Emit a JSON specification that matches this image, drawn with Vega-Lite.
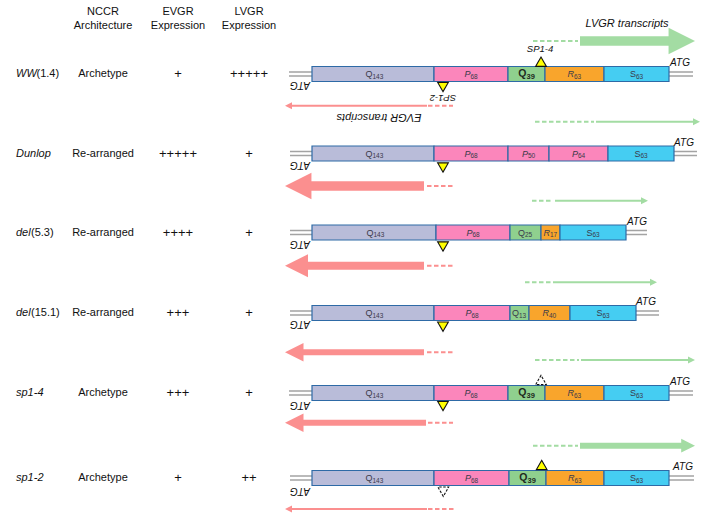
{
  "$schema": "https://vega.github.io/schema/vega-lite/v6.json",
  "width": 713,
  "height": 518,
  "autosize": {"type": "fit", "contains": "padding"},
  "padding": 0,
  "background": "white",
  "config": {"view": {"stroke": null}, "font": "Liberation Sans", "text": {"font": "Liberation Sans"}},
  "datasets": {
    "lines": [
      {"c": 74, "x1": 289, "x2": 693},
      {"c": 153.5, "x1": 290, "x2": 697},
      {"c": 232.5, "x1": 290, "x2": 647},
      {"c": 313, "x1": 290, "x2": 659},
      {"c": 393, "x1": 289, "x2": 693},
      {"c": 478, "x1": 290, "x2": 694}
    ],
    "boxes": [
      {"c": 74, "x1": 312, "x2": 434, "k": "Qa", "L": "Q", "n": "143", "m": 373},
      {"c": 74, "x1": 434, "x2": 508, "k": "P", "L": "P", "n": "68", "m": 471},
      {"c": 74, "x1": 508, "x2": 545, "k": "Qb", "L": "Q", "n": "39", "m": 526.5},
      {"c": 74, "x1": 545, "x2": 604, "k": "R", "L": "R", "n": "63", "m": 574.5},
      {"c": 74, "x1": 604, "x2": 669, "k": "S", "L": "S", "n": "63", "m": 636.5},
      {"c": 153.5, "x1": 312, "x2": 434, "k": "Qa", "L": "Q", "n": "143", "m": 373},
      {"c": 153.5, "x1": 434, "x2": 508, "k": "P", "L": "P", "n": "68", "m": 471},
      {"c": 153.5, "x1": 508, "x2": 549, "k": "P", "L": "P", "n": "50", "m": 528.5},
      {"c": 153.5, "x1": 549, "x2": 608, "k": "P", "L": "P", "n": "64", "m": 578.5},
      {"c": 153.5, "x1": 608, "x2": 674, "k": "S", "L": "S", "n": "63", "m": 641},
      {"c": 232.5, "x1": 312, "x2": 436, "k": "Qa", "L": "Q", "n": "143", "m": 374},
      {"c": 232.5, "x1": 436, "x2": 510, "k": "P", "L": "P", "n": "68", "m": 473},
      {"c": 232.5, "x1": 510, "x2": 541, "k": "Qc", "L": "Q", "n": "25", "m": 525.5},
      {"c": 232.5, "x1": 541, "x2": 560, "k": "R", "L": "R", "n": "17", "m": 550.5},
      {"c": 232.5, "x1": 560, "x2": 626, "k": "S", "L": "S", "n": "63", "m": 593},
      {"c": 313, "x1": 312, "x2": 434, "k": "Qa", "L": "Q", "n": "143", "m": 373},
      {"c": 313, "x1": 434, "x2": 510, "k": "P", "L": "P", "n": "68", "m": 472},
      {"c": 313, "x1": 510, "x2": 529, "k": "Qc", "L": "Q", "n": "13", "m": 519.5},
      {"c": 313, "x1": 529, "x2": 570, "k": "R", "L": "R", "n": "40", "m": 549.5},
      {"c": 313, "x1": 570, "x2": 636, "k": "S", "L": "S", "n": "63", "m": 603},
      {"c": 393, "x1": 312, "x2": 434, "k": "Qa", "L": "Q", "n": "143", "m": 373},
      {"c": 393, "x1": 434, "x2": 508, "k": "P", "L": "P", "n": "68", "m": 471},
      {"c": 393, "x1": 508, "x2": 545, "k": "Qb", "L": "Q", "n": "39", "m": 526.5},
      {"c": 393, "x1": 545, "x2": 604, "k": "R", "L": "R", "n": "63", "m": 574.5},
      {"c": 393, "x1": 604, "x2": 669, "k": "S", "L": "S", "n": "63", "m": 636.5},
      {"c": 478, "x1": 312, "x2": 434, "k": "Qa", "L": "Q", "n": "143", "m": 373},
      {"c": 478, "x1": 434, "x2": 509, "k": "P", "L": "P", "n": "68", "m": 471.5},
      {"c": 478, "x1": 509, "x2": 546, "k": "Qb", "L": "Q", "n": "39", "m": 527.5},
      {"c": 478, "x1": 546, "x2": 604, "k": "R", "L": "R", "n": "63", "m": 575},
      {"c": 478, "x1": 604, "x2": 669, "k": "S", "L": "S", "n": "63", "m": 636.5}
    ],
    "tris": [
      {"x": 541, "y": 61.7, "dir": "up", "kind": "filled"},
      {"x": 443, "y": 87, "dir": "down", "kind": "filled"},
      {"x": 443, "y": 167.5, "dir": "down", "kind": "filled"},
      {"x": 443, "y": 246.5, "dir": "down", "kind": "filled"},
      {"x": 443, "y": 326.7, "dir": "down", "kind": "filled"},
      {"x": 541, "y": 380, "dir": "up", "kind": "open"},
      {"x": 443, "y": 406, "dir": "down", "kind": "filled"},
      {"x": 541.7, "y": 465, "dir": "up", "kind": "filled"},
      {"x": 443.3, "y": 491.7, "dir": "down", "kind": "open"}
    ],
    "shafts": [
      {"t": "LVGR", "y": 41, "x1": 580, "x2": 682, "lvl": 5},
      {"t": "EVGR", "y": 105.7, "x1": 289, "x2": 427, "lvl": 1},
      {"t": "LVGR", "y": 121.7, "x1": 596, "x2": 697, "lvl": 1},
      {"t": "EVGR", "y": 186, "x1": 298, "x2": 424, "lvl": 5},
      {"t": "LVGR", "y": 200.7, "x1": 555, "x2": 645, "lvl": 1},
      {"t": "EVGR", "y": 265.7, "x1": 298, "x2": 424, "lvl": 4},
      {"t": "LVGR", "y": 282.3, "x1": 553, "x2": 654, "lvl": 1},
      {"t": "EVGR", "y": 352.3, "x1": 298, "x2": 424, "lvl": 3},
      {"t": "LVGR", "y": 360, "x1": 581, "x2": 692, "lvl": 1},
      {"t": "EVGR", "y": 422.7, "x1": 298, "x2": 426, "lvl": 3},
      {"t": "LVGR", "y": 445.7, "x1": 580, "x2": 682, "lvl": 2},
      {"t": "EVGR", "y": 509, "x1": 289, "x2": 427, "lvl": 1}
    ],
    "dashes": [
      {"t": "LVGR", "y": 41, "x1": 533, "x2": 578},
      {"t": "EVGR", "y": 105.7, "x1": 428, "x2": 453},
      {"t": "LVGR", "y": 121.7, "x1": 535, "x2": 594},
      {"t": "EVGR", "y": 186, "x1": 427, "x2": 453},
      {"t": "LVGR", "y": 200.7, "x1": 532, "x2": 553},
      {"t": "EVGR", "y": 265.7, "x1": 427, "x2": 453},
      {"t": "LVGR", "y": 282.3, "x1": 525, "x2": 551},
      {"t": "EVGR", "y": 352.3, "x1": 427, "x2": 453},
      {"t": "LVGR", "y": 360, "x1": 535, "x2": 579},
      {"t": "EVGR", "y": 422.7, "x1": 428, "x2": 453},
      {"t": "LVGR", "y": 445.7, "x1": 533, "x2": 578},
      {"t": "EVGR", "y": 509, "x1": 428, "x2": 454}
    ],
    "heads": [
      {"t": "LVGR", "y": 41, "x": 695, "dir": "right", "lvl": 5},
      {"t": "EVGR", "y": 105.7, "x": 285, "dir": "left", "lvl": 1},
      {"t": "LVGR", "y": 121.7, "x": 700, "dir": "right", "lvl": 1},
      {"t": "EVGR", "y": 186, "x": 285, "dir": "left", "lvl": 5},
      {"t": "LVGR", "y": 200.7, "x": 648, "dir": "right", "lvl": 1},
      {"t": "EVGR", "y": 265.7, "x": 285, "dir": "left", "lvl": 4},
      {"t": "LVGR", "y": 282.3, "x": 657, "dir": "right", "lvl": 1},
      {"t": "EVGR", "y": 352.3, "x": 285, "dir": "left", "lvl": 3},
      {"t": "LVGR", "y": 360, "x": 695, "dir": "right", "lvl": 1},
      {"t": "EVGR", "y": 422.7, "x": 285, "dir": "left", "lvl": 3},
      {"t": "LVGR", "y": 445.7, "x": 695, "dir": "right", "lvl": 2},
      {"t": "EVGR", "y": 509, "x": 285, "dir": "left", "lvl": 1}
    ],
    "headers": [
      {"x": 103, "y": 12, "t": "NCCR"},
      {"x": 103, "y": 26, "t": "Architecture"},
      {"x": 178, "y": 12, "t": "EVGR"},
      {"x": 178, "y": 26, "t": "Expression"},
      {"x": 249, "y": 12, "t": "LVGR"},
      {"x": 249, "y": 26, "t": "Expression"}
    ],
    "names": [
      {"x": 16, "y": 74, "t": "WW"},
      {"x": 16, "y": 153.5, "t": "Dunlop"},
      {"x": 16, "y": 232.5, "t": "del"},
      {"x": 16, "y": 313, "t": "del"},
      {"x": 16, "y": 393, "t": "sp1-4"},
      {"x": 16, "y": 478, "t": "sp1-2"}
    ],
    "suffix": [
      {"x": 36.5, "y": 74, "t": "(1.4)"},
      {"x": 31, "y": 232.5, "t": "(5.3)"},
      {"x": 31, "y": 313, "t": "(15.1)"}
    ],
    "arch": [
      {"x": 103, "y": 74, "t": "Archetype"},
      {"x": 103, "y": 153.5, "t": "Re-arranged"},
      {"x": 103, "y": 232.5, "t": "Re-arranged"},
      {"x": 103, "y": 313, "t": "Re-arranged"},
      {"x": 103, "y": 393, "t": "Archetype"},
      {"x": 103, "y": 478, "t": "Archetype"}
    ],
    "plus": [
      {"x": 178, "y": 74, "t": "+"},
      {"x": 178, "y": 153.5, "t": "+++++"},
      {"x": 178, "y": 232.5, "t": "++++"},
      {"x": 178, "y": 313, "t": "+++"},
      {"x": 178, "y": 393, "t": "+++"},
      {"x": 178, "y": 478, "t": "+"},
      {"x": 249, "y": 74, "t": "+++++"},
      {"x": 249, "y": 153.5, "t": "+"},
      {"x": 249, "y": 232.5, "t": "+"},
      {"x": 249, "y": 313, "t": "+"},
      {"x": 249, "y": 393, "t": "+"},
      {"x": 249, "y": 478, "t": "++"}
    ],
    "atg": [
      {"x": 680, "y": 63, "t": "ATG", "f": 0},
      {"x": 684, "y": 142.5, "t": "ATG", "f": 0},
      {"x": 637, "y": 221.5, "t": "ATG", "f": 0},
      {"x": 646, "y": 302, "t": "ATG", "f": 0},
      {"x": 680, "y": 382, "t": "ATG", "f": 0},
      {"x": 683, "y": 467, "t": "ATG", "f": 0},
      {"x": 300, "y": 85, "t": "ATG", "f": 1},
      {"x": 300, "y": 165, "t": "ATG", "f": 1},
      {"x": 300, "y": 244, "t": "ATG", "f": 1},
      {"x": 300, "y": 324, "t": "ATG", "f": 1},
      {"x": 300, "y": 405, "t": "ATG", "f": 1},
      {"x": 300, "y": 491, "t": "ATG", "f": 1}
    ],
    "sp": [
      {"x": 540, "y": 49, "t": "SP1-4", "f": 0},
      {"x": 443, "y": 98, "t": "SP1-2", "f": 1}
    ],
    "tr": [
      {"x": 627, "y": 24, "t": "LVGR transcripts", "f": 0},
      {"x": 379, "y": 117, "t": "EVGR transcripts", "f": 1}
    ]
  },
  "layer": [
    {
      "data": {"name": "lines"},
      "mark": {"type": "rule", "color": "#a3a3a3", "strokeWidth": 1.3, "yOffset": -2},
      "encoding": {
        "x": {"field": "x1", "type": "quantitative", "scale": {"domain": [0, 713], "nice": false, "zero": false}, "axis": null},
        "x2": {"field": "x2"},
        "y": {"field": "c", "type": "quantitative", "scale": {"domain": [0, 518], "reverse": true, "nice": false, "zero": false}, "axis": null}
      }
    },
    {
      "data": {"name": "lines"},
      "mark": {"type": "rule", "color": "#a3a3a3", "strokeWidth": 1.3, "yOffset": 2},
      "encoding": {
        "x": {"field": "x1", "type": "quantitative", "axis": null},
        "x2": {"field": "x2"},
        "y": {"field": "c", "type": "quantitative", "axis": null}
      }
    },
    {
      "data": {"name": "boxes"},
      "mark": {"type": "rect", "stroke": "#2e6aa6", "strokeWidth": 1.2, "yOffset": -7.5, "y2Offset": 7.5},
      "encoding": {
        "x": {"field": "x1", "type": "quantitative", "axis": null},
        "x2": {"field": "x2"},
        "y": {"field": "c", "type": "quantitative", "axis": null},
        "y2": {"field": "c"},
        "fill": {"field": "k", "type": "nominal", "scale": {"domain": ["Qa", "P", "Qb", "Qc", "R", "S"], "range": ["#b9bcd9", "#fb86bb", "#8fd08e", "#8fd08e", "#f9a52c", "#45cdf2"]}, "legend": null}
      }
    },
    {
      "data": {"name": "boxes"},
      "transform": [{"filter": "datum.k == 'Qa' || datum.k == 'Qc' || datum.k == 'S'"}],
      "mark": {"type": "text", "fontSize": 9, "align": "right", "baseline": "middle", "color": "#3a3a4a", "dx": -0.5},
      "encoding": {
        "x": {"field": "m", "type": "quantitative", "axis": null},
        "y": {"field": "c", "type": "quantitative", "axis": null},
        "text": {"field": "L"}
      }
    },
    {
      "data": {"name": "boxes"},
      "transform": [{"filter": "datum.k == 'P' || datum.k == 'R'"}],
      "mark": {"type": "text", "fontSize": 9, "fontStyle": "italic", "align": "right", "baseline": "middle", "color": "#3a3a4a", "dx": -0.5},
      "encoding": {
        "x": {"field": "m", "type": "quantitative", "axis": null},
        "y": {"field": "c", "type": "quantitative", "axis": null},
        "text": {"field": "L"}
      }
    },
    {
      "data": {"name": "boxes"},
      "transform": [{"filter": "datum.k != 'Qb'"}],
      "mark": {"type": "text", "fontSize": 6.5, "align": "left", "baseline": "middle", "color": "#3a3a4a", "dx": -0.5, "dy": 2.5},
      "encoding": {
        "x": {"field": "m", "type": "quantitative", "axis": null},
        "y": {"field": "c", "type": "quantitative", "axis": null},
        "text": {"field": "n"}
      }
    },
    {
      "data": {"name": "boxes"},
      "transform": [{"filter": "datum.k == 'Qb'"}],
      "mark": {"type": "text", "fontSize": 10.5, "fontWeight": "bold", "align": "right", "baseline": "middle", "color": "#1e2a1e", "dx": 0},
      "encoding": {
        "x": {"field": "m", "type": "quantitative", "axis": null},
        "y": {"field": "c", "type": "quantitative", "axis": null},
        "text": {"field": "L"}
      }
    },
    {
      "data": {"name": "boxes"},
      "transform": [{"filter": "datum.k == 'Qb'"}],
      "mark": {"type": "text", "fontSize": 7.5, "fontWeight": "bold", "align": "left", "baseline": "middle", "color": "#1e2a1e", "dx": 0, "dy": 2.5},
      "encoding": {
        "x": {"field": "m", "type": "quantitative", "axis": null},
        "y": {"field": "c", "type": "quantitative", "axis": null},
        "text": {"field": "n"}
      }
    },
    {
      "data": {"name": "tris"},
      "mark": {"type": "point", "filled": true, "opacity": 1, "stroke": "#111111", "strokeWidth": 1.1, "size": 115},
      "encoding": {
        "x": {"field": "x", "type": "quantitative", "axis": null},
        "y": {"field": "y", "type": "quantitative", "axis": null},
        "shape": {"field": "dir", "type": "nominal", "scale": {"domain": ["up", "down"], "range": ["triangle-up", "triangle-down"]}, "legend": null},
        "fill": {"field": "kind", "type": "nominal", "scale": {"domain": ["filled", "open"], "range": ["#ffff00", "#ffffff"]}, "legend": null},
        "strokeDash": {"field": "kind", "type": "nominal", "scale": {"domain": ["filled", "open"], "range": [[1, 0], [2.5, 1.5]]}, "legend": null}
      }
    },
    {
      "data": {"name": "dashes"},
      "mark": {"type": "rule", "strokeWidth": 2, "strokeDash": [4.5, 2.5]},
      "encoding": {
        "x": {"field": "x1", "type": "quantitative", "axis": null},
        "x2": {"field": "x2"},
        "y": {"field": "y", "type": "quantitative", "axis": null},
        "color": {"field": "t", "type": "nominal", "scale": {"domain": ["EVGR", "LVGR"], "range": ["#fb8f8f", "#a3dca3"]}, "legend": null}
      }
    },
    {
      "data": {"name": "shafts"},
      "mark": {"type": "rule", "strokeCap": "butt"},
      "encoding": {
        "x": {"field": "x1", "type": "quantitative", "axis": null},
        "x2": {"field": "x2"},
        "y": {"field": "y", "type": "quantitative", "axis": null},
        "color": {"field": "t", "type": "nominal", "scale": {"domain": ["EVGR", "LVGR"], "range": ["#fb8f8f", "#a3dca3"]}, "legend": null},
        "size": {"field": "lvl", "type": "quantitative", "scale": {"type": "linear", "domain": [1, 2, 3, 4, 5], "range": [2, 6, 6, 8, 9.5]}, "legend": null}
      }
    },
    {
      "data": {"name": "heads"},
      "mark": {"type": "point", "filled": true, "opacity": 1, "strokeWidth": 0},
      "encoding": {
        "x": {"field": "x", "type": "quantitative", "axis": null},
        "y": {"field": "y", "type": "quantitative", "axis": null},
        "color": {"field": "t", "type": "nominal", "scale": {"domain": ["EVGR", "LVGR"], "range": ["#fb8f8f", "#a3dca3"]}, "legend": null},
        "shape": {"field": "dir", "type": "nominal", "scale": {"domain": ["left", "right"], "range": ["M0,0L2,-1L2,1Z", "M0,0L-2,-1L-2,1Z"]}, "legend": null},
        "size": {"field": "lvl", "type": "quantitative", "scale": {"type": "linear", "domain": [1, 2, 3, 4, 5], "range": [49, 190, 342, 529, 700]}, "legend": null}
      }
    },
    {
      "data": {"name": "headers"},
      "mark": {"type": "text", "fontSize": 11, "align": "center", "baseline": "middle", "color": "#111111"},
      "encoding": {
        "x": {"field": "x", "type": "quantitative", "axis": null},
        "y": {"field": "y", "type": "quantitative", "axis": null},
        "text": {"field": "t"}
      }
    },
    {
      "data": {"name": "names"},
      "mark": {"type": "text", "fontSize": 11, "fontStyle": "italic", "align": "left", "baseline": "middle", "color": "#111111"},
      "encoding": {
        "x": {"field": "x", "type": "quantitative", "axis": null},
        "y": {"field": "y", "type": "quantitative", "axis": null},
        "text": {"field": "t"}
      }
    },
    {
      "data": {"name": "suffix"},
      "mark": {"type": "text", "fontSize": 11, "align": "left", "baseline": "middle", "color": "#111111"},
      "encoding": {
        "x": {"field": "x", "type": "quantitative", "axis": null},
        "y": {"field": "y", "type": "quantitative", "axis": null},
        "text": {"field": "t"}
      }
    },
    {
      "data": {"name": "arch"},
      "mark": {"type": "text", "fontSize": 11, "align": "center", "baseline": "middle", "color": "#111111"},
      "encoding": {
        "x": {"field": "x", "type": "quantitative", "axis": null},
        "y": {"field": "y", "type": "quantitative", "axis": null},
        "text": {"field": "t"}
      }
    },
    {
      "data": {"name": "plus"},
      "mark": {"type": "text", "fontSize": 13, "align": "center", "baseline": "middle", "color": "#111111"},
      "encoding": {
        "x": {"field": "x", "type": "quantitative", "axis": null},
        "y": {"field": "y", "type": "quantitative", "axis": null},
        "text": {"field": "t"}
      }
    },
    {
      "data": {"name": "atg"},
      "mark": {"type": "text", "fontSize": 10, "fontStyle": "italic", "align": "center", "baseline": "middle", "color": "#111111"},
      "encoding": {
        "x": {"field": "x", "type": "quantitative", "axis": null},
        "y": {"field": "y", "type": "quantitative", "axis": null},
        "angle": {"field": "f", "type": "quantitative", "scale": {"domain": [0, 1], "range": [0, 180]}, "legend": null},
        "text": {"field": "t"}
      }
    },
    {
      "data": {"name": "sp"},
      "mark": {"type": "text", "fontSize": 9.5, "fontStyle": "italic", "align": "center", "baseline": "middle", "color": "#111111"},
      "encoding": {
        "x": {"field": "x", "type": "quantitative", "axis": null},
        "y": {"field": "y", "type": "quantitative", "axis": null},
        "angle": {"field": "f", "type": "quantitative", "scale": {"domain": [0, 1], "range": [0, 180]}, "legend": null},
        "text": {"field": "t"}
      }
    },
    {
      "data": {"name": "tr"},
      "mark": {"type": "text", "fontSize": 11, "fontStyle": "italic", "align": "center", "baseline": "middle", "color": "#111111"},
      "encoding": {
        "x": {"field": "x", "type": "quantitative", "axis": null},
        "y": {"field": "y", "type": "quantitative", "axis": null},
        "angle": {"field": "f", "type": "quantitative", "scale": {"domain": [0, 1], "range": [0, 180]}, "legend": null},
        "text": {"field": "t"}
      }
    }
  ],
  "resolve": {"scale": {"fill": "independent", "color": "independent", "size": "independent", "shape": "independent", "strokeDash": "independent"}}
}
